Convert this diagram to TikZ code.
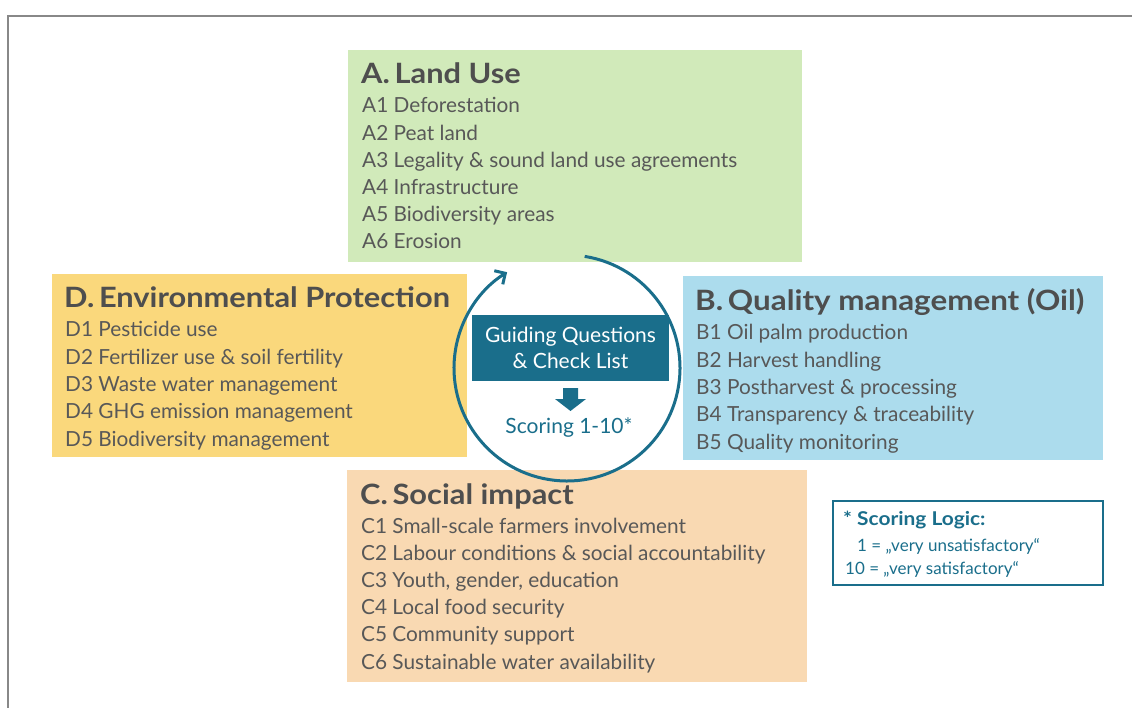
\documentclass[tikz,border=0pt]{standalone}
\usepackage{fontspec}
\setmainfont{Lato}
\newfontfamily\bfontw[FakeStretch=1.1]{Lato}
\newfontfamily\bfontn[FakeStretch=1.12]{Lato}
\usetikzlibrary{arrows.meta}
\definecolor{tealc}{HTML}{1A6E8B}
\definecolor{txtd}{HTML}{4E4E4E}
\definecolor{txtl}{HTML}{585858}
\definecolor{greenA}{RGB}{209,234,186}
\definecolor{yellowD}{RGB}{250,216,124}
\definecolor{blueB}{RGB}{172,220,237}
\definecolor{peachC}{RGB}{249,217,178}
\definecolor{framec}{HTML}{888888}
\begin{document}
\begin{tikzpicture}[x=1pt,y=1pt,
  box/.style={rectangle, draw=none, inner sep=0pt, anchor=north west},
  ttl/.style={anchor=base west, inner sep=0pt, font=\fontsize{28}{32}\bfontw\bfseries, text=txtd},
  itm/.style={anchor=base west, inner sep=0pt, font=\fontsize{20.8}{24}\selectfont, text=txtl},
  framel/.style={draw=framec, line width=2pt},
  circ/.style={draw=tealc, line width=3pt, -{Straight Barb[length=8pt,width=16pt]}},
  logictxt/.style={anchor=base west, inner sep=0pt, text=tealc, font=\fontsize{17}{20}\selectfont},
]
\useasboundingbox (0,0) rectangle (1132,-708);
\draw[framel] (1132,-16) -- (8,-16) -- (8,-708);

% boxes
\node[box, fill=greenA, minimum width=454pt, minimum height=212pt] (boxA) at (348,-50) {};
\node[box, fill=yellowD, minimum width=415pt, minimum height=183pt] (boxD) at (52,-274) {};
\node[box, fill=blueB, minimum width=420pt, minimum height=184pt] (boxB) at (683,-276) {};
\node[box, fill=peachC, minimum width=460pt, minimum height=212pt] (boxC) at (347,-470) {};

% A
\node[ttl] (ta) at (361,-84) {A.\,Land Use};
\foreach \t [count=\i] in {A1 Deforestation, A2 Peat land, A3 Legality \& sound land use agreements, A4 Infrastructure, A5 Biodiversity areas, A6 Erosion}
  \node[itm] (a\i) at (362,{-113-27.2*(\i-1)}) {\t};
% D
\node[ttl] (td) at (64,-308) {D.\,Environmental Protection};
\foreach \t [count=\i] in {D1 Pesticide use, D2 Fertilizer use \& soil fertility, D3 Waste water management, D4 GHG emission management, D5 Biodiversity management}
  \node[itm] (d\i) at (65,{-337-27.25*(\i-1)}) {\t};
% B
\node[ttl, font=\fontsize{28}{32}\bfontn\bfseries] (tb) at (695,-311) {B.\,Quality management (Oil)};
\foreach \t [count=\i] in {B1 Oil palm production, B2 Harvest handling, B3 Postharvest \& processing, B4 Transparency \& traceability, B5 Quality monitoring}
  \node[itm] (b\i) at (696,{-340-27.25*(\i-1)}) {\t};
% C
\node[ttl] (tc) at (360,-504) {C.\,Social impact};
\foreach \t [count=\i] in {C1 Small-scale farmers involvement, C2 Labour conditions \& social accountability, {C3 Youth, gender, education}, C4 Local food security, C5 Community support, C6 Sustainable water availability}
  \node[itm] (c\i) at (361,{-533-27.2*(\i-1)}) {\t};

% center cycle
\coordinate (cc) at (567,-368);
\draw[circ] ([shift={(81:113)}]cc) arc[start angle=81, end angle=-238, radius=113];
\node[rectangle, fill=tealc, text=white, minimum width=197pt, minimum height=66pt, align=center,
  font=\fontsize{21}{26}\selectfont, inner sep=0pt] (guide) at (570.5,-348) {Guiding Questions\\\& Check List};
\fill[tealc] (563,-388) -- (578,-388) -- (578,-399) -- (586,-399) -- (570.5,-411) -- (555,-399) -- (563,-399) -- cycle;
\node[anchor=base, inner sep=0pt, text=tealc, font=\fontsize{21}{24}\selectfont] (score) at (569,-433) {Scoring 1-10*};

% scoring logic
\node[box, draw=tealc, line width=1.5pt, minimum width=270pt, minimum height=84pt] (logic) at (832,-500) {};
\node[logictxt, font=\fontsize{19}{22}\bfontw\bfseries] (l1) at (843,-525) {* Scoring Logic:};
\node[logictxt] (l2) at (857,-551) {1 = „very unsatisfactory“};
\node[logictxt] (l3) at (845,-574) {10 = „very satisfactory“};
\end{tikzpicture}
\end{document}
